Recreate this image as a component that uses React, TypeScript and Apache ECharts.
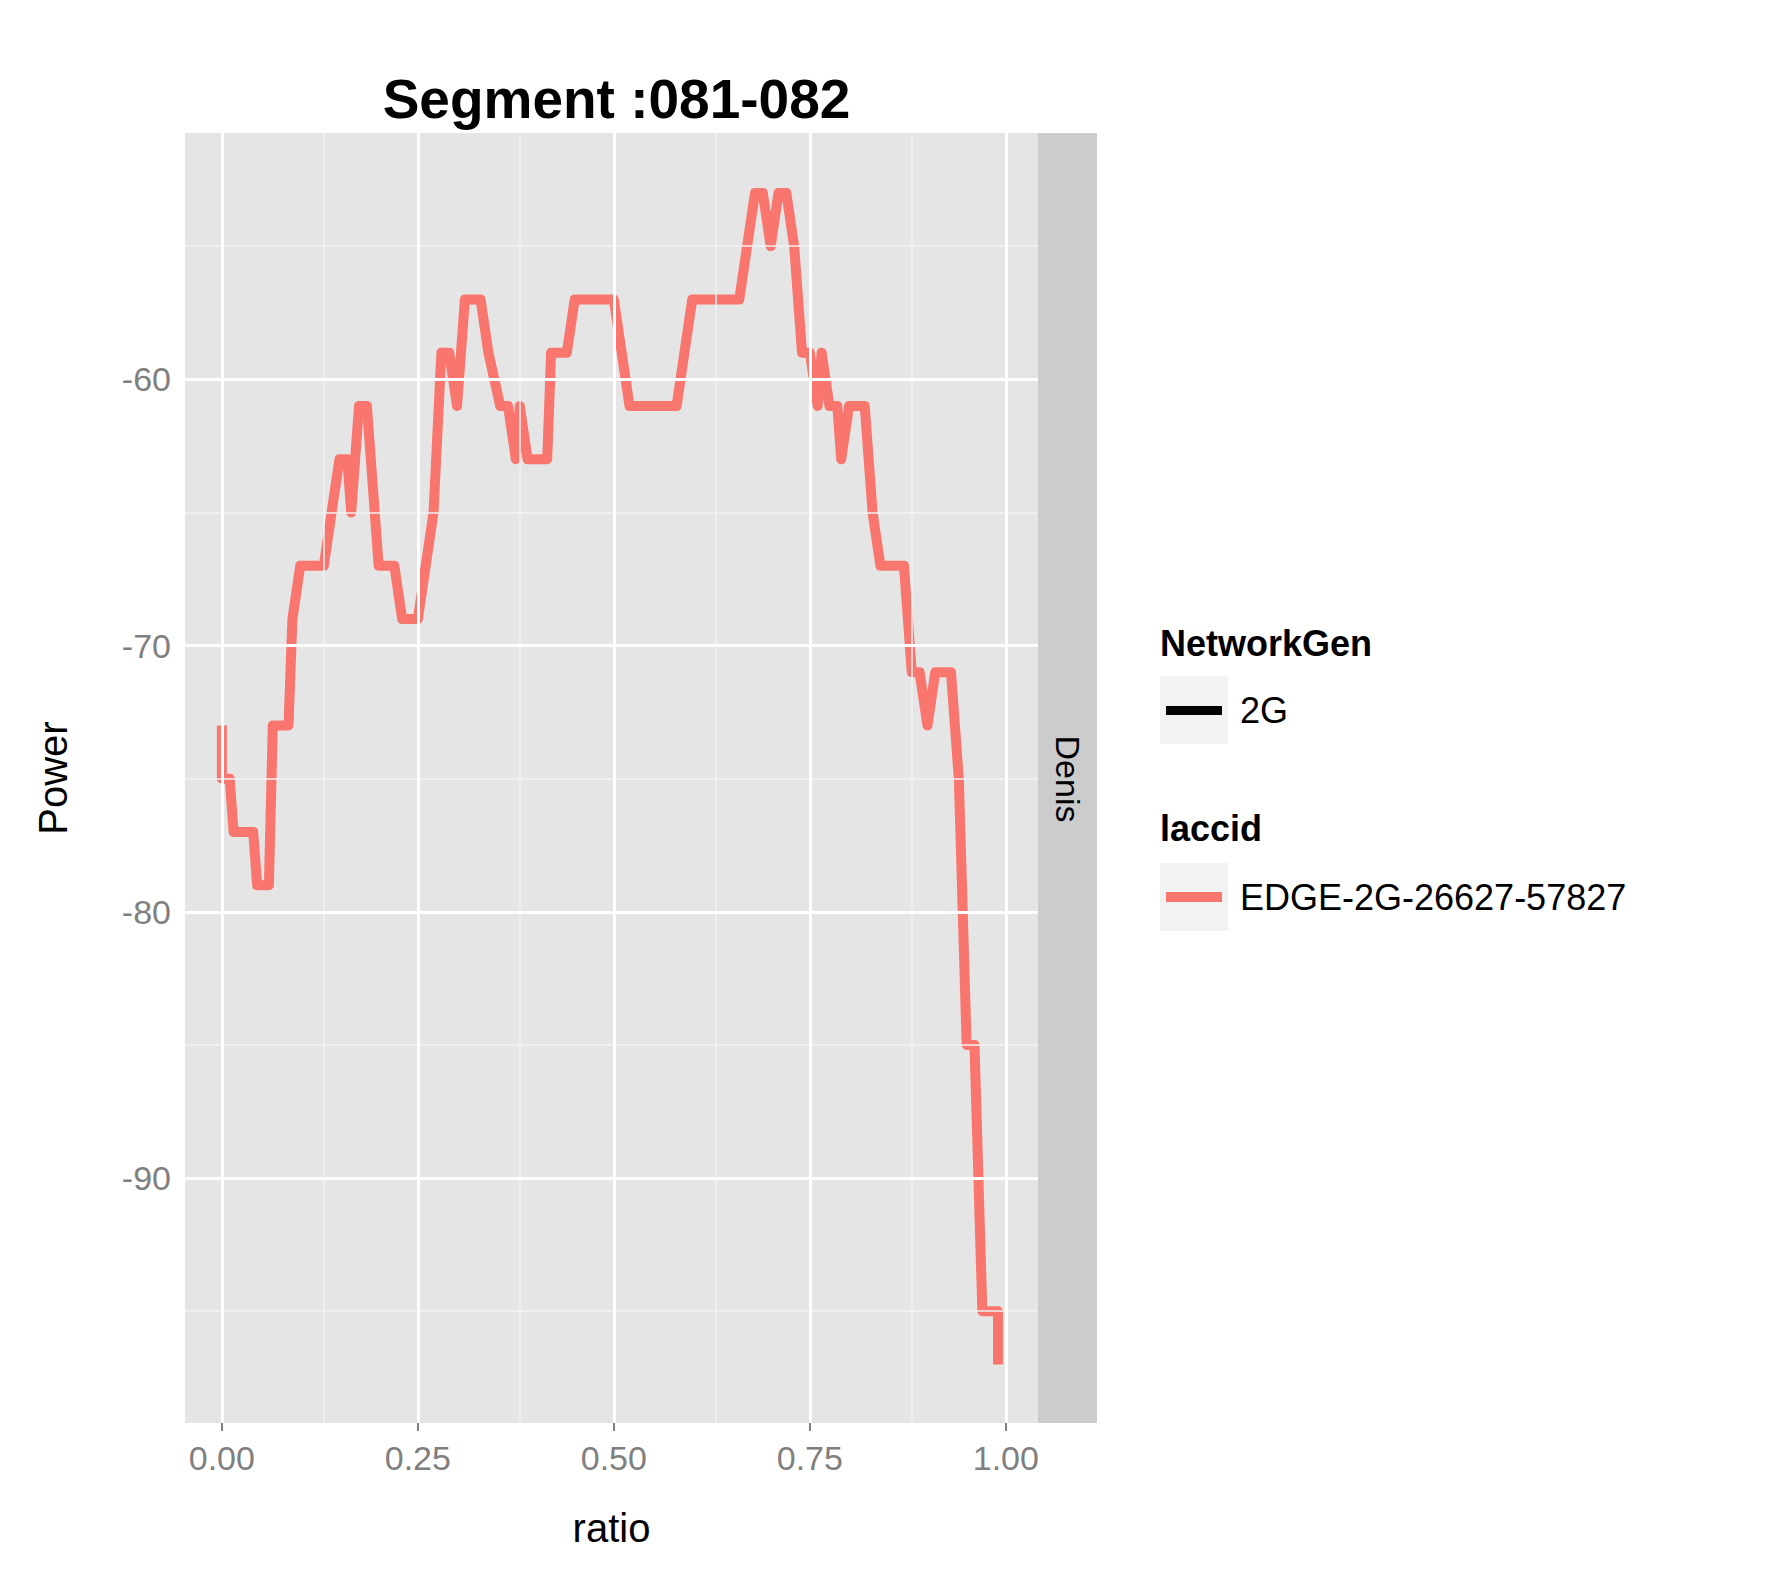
import React, { useRef, useEffect } from "react"
import * as echarts from "echarts"

const ratio = [0, 0, 0.01, 0.015, 0.04, 0.045, 0.06, 0.065, 0.085, 0.09, 0.1, 0.13, 0.14, 0.15, 0.16, 0.165, 0.175, 0.185, 0.19, 0.2, 0.22, 0.23, 0.25, 0.26, 0.27, 0.28, 0.29, 0.3, 0.305, 0.31, 0.33, 0.34, 0.355, 0.365, 0.375, 0.38, 0.39, 0.4, 0.415, 0.42, 0.44, 0.45, 0.5, 0.51, 0.52, 0.58, 0.59, 0.6, 0.66, 0.67, 0.68, 0.69, 0.7, 0.71, 0.72, 0.73, 0.74, 0.75, 0.76, 0.765, 0.775, 0.785, 0.79, 0.8, 0.82, 0.83, 0.84, 0.87, 0.88, 0.89, 0.9, 0.91, 0.93, 0.94, 0.95, 0.96, 0.97, 0.99, 0.99]
const power = [-73, -75, -75, -77, -77, -79, -79, -73, -73, -69, -67, -67, -65, -63, -63, -65, -61, -61, -63, -67, -67, -69, -69, -67, -65, -59, -59, -61, -59, -57, -57, -59, -61, -61, -63, -61, -63, -63, -63, -59, -59, -57, -57, -59, -61, -61, -59, -57, -57, -55, -53, -53, -55, -53, -53, -55, -59, -59, -61, -59, -61, -61, -63, -61, -61, -65, -67, -67, -71, -71, -73, -71, -71, -75, -85, -85, -95, -95, -97]

const xTicks = [0, 0.25, 0.5, 0.75, 1]
const xMinor = [0.125, 0.375, 0.625, 0.875]
const yTicks = [-90, -80, -70, -60]
const yMinor = [-95, -85, -75, -65, -55]

const GL = 185, GT = 133, GW = 853, GH = 1290

export default function App() {
  const ref = useRef<HTMLDivElement>(null)

  useEffect(() => {
    document.body.style.margin = "0"
    if (!ref.current) return
    const chart = echarts.init(ref.current, null, { renderer: "svg" })
    const font = "Liberation Sans, Arial, sans-serif"
    const gridLine = (vals: number[], axis: "xAxis" | "yAxis", color: string, width: number) =>
      vals.map((v) => ({ [axis]: v, lineStyle: { color, width, type: "solid" } }))
    const tickLabel = { color: "#7f7f7f", fontSize: 34, fontFamily: font }
    chart.setOption({
      animation: false,
      backgroundColor: "#ffffff",
      title: {
        text: "Segment :081-082",
        left: GL + GW / 2,
        textAlign: "center",
        top: 66,
        textStyle: { fontSize: 55, fontWeight: "bold", color: "#000", fontFamily: font },
      },
      grid: { left: GL, top: GT, width: GW, height: GH, show: true, backgroundColor: "#e5e5e5", borderWidth: 0 },
      xAxis: {
        type: "value",
        min: -0.047,
        max: 1.041,
        name: "ratio",
        nameLocation: "middle",
        nameGap: 85,
        nameTextStyle: { fontSize: 40, color: "#000", fontFamily: font },
        axisLine: { show: false },
        splitLine: { show: false },
        axisTick: { show: true, customValues: xTicks, length: 8, lineStyle: { color: "#7f7f7f", width: 2 } },
        axisLabel: { customValues: xTicks, formatter: (v: number) => v.toFixed(2), margin: 18, ...tickLabel },
      },
      yAxis: {
        type: "value",
        min: -99.2,
        max: -50.75,
        name: "Power",
        nameLocation: "middle",
        nameGap: 112,
        nameTextStyle: { fontSize: 40, color: "#000", fontFamily: font },
        axisLine: { show: false },
        splitLine: { show: false },
        axisTick: { show: true, customValues: yTicks, length: 8, lineStyle: { color: "#7f7f7f", width: 2 } },
        axisLabel: { customValues: yTicks, margin: 14, ...tickLabel },
      },
      series: [
        {
          type: "line",
          data: [],
          z: 1,
          markLine: {
            silent: true,
            symbol: "none",
            label: { show: false },
            data: [
              ...gridLine(xMinor, "xAxis", "#f2f2f2", 1.5),
              ...gridLine(yMinor, "yAxis", "#f2f2f2", 1.5),
              ...gridLine(xTicks, "xAxis", "#ffffff", 3),
              ...gridLine(yTicks, "yAxis", "#ffffff", 3),
            ],
          },
        },
        {
          name: "EDGE-2G-26627-57827",
          type: "line",
          z: 3,
          data: ratio.map((r, i) => [r, power[i]]),
          symbol: "none",
          lineStyle: { color: "#F8766D", width: 10, join: "round" },
        },
      ],
      graphic: [
        { type: "rect", left: GL + GW, top: GT, shape: { width: 59, height: GH }, style: { fill: "#cccccc" } },
        {
          type: "text",
          x: 1068,
          y: 779,
          rotation: -Math.PI / 2,
          style: { text: "Denis", fontSize: 34, fill: "#000", fontFamily: font, align: "center", verticalAlign: "middle" },
        },
        { type: "text", left: 1160, top: 625, style: { text: "NetworkGen", fontSize: 36, fontWeight: "bold", fill: "#000", fontFamily: font } },
        { type: "rect", left: 1160, top: 676, shape: { width: 68, height: 68 }, style: { fill: "#f2f2f2" } },
        { type: "rect", left: 1166, top: 706, shape: { width: 56, height: 9 }, style: { fill: "#000" } },
        { type: "text", left: 1240, top: 692, style: { text: "2G", fontSize: 36, fill: "#000", fontFamily: font } },
        { type: "text", left: 1160, top: 810, style: { text: "laccid", fontSize: 36, fontWeight: "bold", fill: "#000", fontFamily: font } },
        { type: "rect", left: 1160, top: 863, shape: { width: 68, height: 68 }, style: { fill: "#f2f2f2" } },
        { type: "rect", left: 1166, top: 892, shape: { width: 56, height: 10 }, style: { fill: "#F8766D" } },
        { type: "text", left: 1240, top: 879, style: { text: "EDGE-2G-26627-57827", fontSize: 36, fill: "#000", fontFamily: font } },
      ],
    })
    return () => chart.dispose()
  }, [])

  return <div ref={ref} style={{ width: 1779, height: 1574 }} />
}
